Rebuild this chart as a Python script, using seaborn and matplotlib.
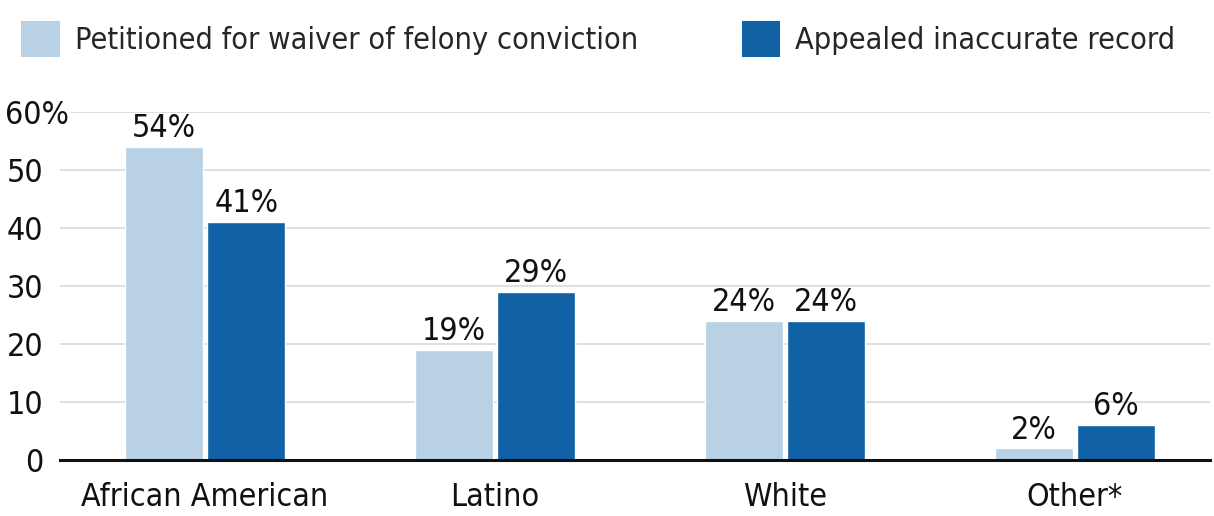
import matplotlib
matplotlib.use("Agg")
import matplotlib.pyplot as plt
import seaborn as sns
import pandas as pd
from matplotlib.patches import Patch
from matplotlib.transforms import ScaledTranslation

categories = ["African American", "Latino", "White", "Other*"]
series_names = ["Petitioned for waiver of felony conviction", "Appealed inaccurate record"]
waiver = [54, 19, 24, 2]
appealed = [41, 29, 24, 6]
yticks = [0, 10, 20, 30, 40, 50, 60]
ytick_labels = ["0", "10", "20", "30", "40", "50", "60%"]
colors = ["#b8d1e4", "#1061a5"]

sns.set_theme(style="white")
plt.rcParams['font.family'] = ['DejaVu Sans']
plt.rcParams['font.stretch'] = 'condensed'

df = pd.DataFrame({
    "category": categories * 2,
    "series": [series_names[0]] * 4 + [series_names[1]] * 4,
    "value": waiver + appealed,
})

fig = plt.figure(figsize=(12.14, 5.16), dpi=100)
ax = fig.add_axes([0.0494, 0.1085, 0.9473, 0.6745])
sns.barplot(data=df, x="category", y="value", hue="series", palette=colors,
            width=0.569, gap=0.055, ax=ax, legend=False, saturation=1)

fs = 23
for cont in ax.containers:
    ax.bar_label(cont, labels=[f"{int(v.get_height())}%" for v in cont],
                 padding=2, fontsize=fs, color="#111111")

ax.set_xlim(-0.5, 3.466)
ax.set_ylim(0, 60)
ax.set_yticks(yticks)
ax.set_yticklabels(ytick_labels)
ax.set_xlabel("")
ax.set_ylabel("")
ax.grid(axis="y", color="#d9d9d9", linewidth=1.2)
ax.set_axisbelow(True)
for s in ["top", "right", "left"]:
    ax.spines[s].set_visible(False)
ax.spines["bottom"].set_color("#111111")
ax.spines["bottom"].set_linewidth(2.2)
ax.tick_params(axis="both", length=0, labelsize=fs, colors="#111111")
ax.tick_params(axis="y", pad=12)
ax.tick_params(axis="x", pad=16)

last = ax.get_yticklabels()[-1]
last.set_transform(last.get_transform() + ScaledTranslation(26 / 100, 0, fig.dpi_scale_trans))
last.set_bbox(dict(facecolor="white", edgecolor="none", pad=1))

handles = [Patch(facecolor=c, edgecolor="none") for c in colors]
fig.legend(handles, series_names, loc="upper left", bbox_to_anchor=(0.0, 1.0),
           ncol=2, frameon=False, fontsize=22, handlelength=1.25, handleheight=1.4,
           handletextpad=0.5, columnspacing=3.4, borderaxespad=0.3)

fig.savefig("out.png", dpi=100)
